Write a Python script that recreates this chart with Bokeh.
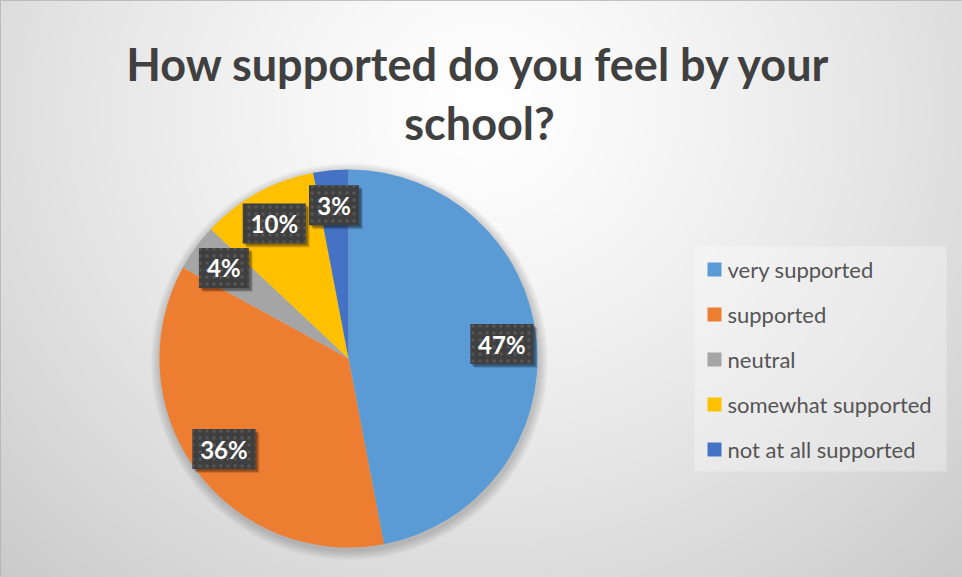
import numpy as np
from bokeh.plotting import figure
from bokeh.models import Range1d
from bokeh.core.properties import value
from bokeh.embed import file_html
from bokeh.resources import INLINE

# ---- data ----
categories = ["very supported", "supported", "neutral", "somewhat supported", "not at all supported"]
percentages = [47, 36, 4, 10, 3]
colors = ["#5B9BD5", "#ED7D31", "#A5A5A5", "#FFC000", "#4472C4"]
title_lines = ["How supported do you feel by your", "school?"]

W, H = 962, 577


def Y(py):
    return H - py


p = figure(width=W, height=H, x_range=Range1d(0, W), y_range=Range1d(0, H),
           output_backend="svg", toolbar_location=None, min_border=0,
           x_axis_location=None, y_axis_location=None)
p.grid.visible = False
p.outline_line_color = "#b0b0b0"
p.background_fill_color = "#e6e6e6"
p.border_fill_color = "#e6e6e6"

# ---- background radial gradient ----
yy, xx = np.mgrid[0:H, 0:W]
py = H - yy
d = np.sqrt(((xx - 481) / 600.0) ** 2 + ((py - 110) / 560.0) ** 2)
d = np.clip(d / 1.25, 0, 1)
g = (255 - 58 * d ** 1.3).astype(np.uint8)
img = np.empty((H, W), dtype=np.uint32)
view = img.view(dtype=np.uint8).reshape((H, W, 4))
view[:, :, 0] = g
view[:, :, 1] = g
view[:, :, 2] = g
view[:, :, 3] = 255
p.image_rgba(image=[img], x=0, y=0, dw=W, dh=H)

# ---- pie ----
cx, cy, r = 348, Y(358), 189
vals = np.array(percentages, dtype=float)
frac = vals / vals.sum()
cum_end = np.cumsum(frac)
cum_start = cum_end - frac
start = np.pi / 2 - 2 * np.pi * cum_start
end = np.pi / 2 - 2 * np.pi * cum_end

# soft shadow around pie
for k in range(1, 9):
    p.circle(x=cx + 1, y=cy - 3, radius=r + k * 1.2, fill_color="black",
             fill_alpha=0.022, line_color=None)

p.wedge(x=cx, y=cy, radius=r, start_angle=start.tolist(), end_angle=end.tolist(),
        direction="clock", fill_color=colors, line_color=None)

# ---- data labels ----
mid = 2 * np.pi * (cum_start + frac / 2)
lr = 0.815 * r
lx = cx + lr * np.sin(mid)
ly = cy + lr * np.cos(mid)
texts = [f"{v}%" for v in percentages]
bw = [13 * len(t) + 24 for t in texts]
bh = 40

for off, a in [(4, 0.12), (3, 0.18), (2, 0.2)]:
    p.rect(x=(lx + off).tolist(), y=(ly - off).tolist(), width=bw, height=bh,
           fill_color="black", fill_alpha=a, line_color=None)
p.rect(x=lx.tolist(), y=ly.tolist(), width=bw, height=bh,
       fill_color="#3f3f3f", line_color=None,
       hatch_pattern="dot", hatch_color="#565656", hatch_scale=7, hatch_weight=1.5)
p.text(x=lx.tolist(), y=ly.tolist(), text=texts, text_color="white",
       text_font=value("Lato"), text_font_style="bold", text_font_size="24px",
       text_align="center", text_baseline="middle")

# ---- title ----
p.text(x=[479, 479], y=[Y(63), Y(122)], text=title_lines, text_color="#404040",
       text_font=value("Lato"), text_font_style="bold", text_font_size="45px",
       text_align="center", text_baseline="alphabetic")

# ---- legend ----
p.quad(left=[694], right=[946], top=[Y(246)], bottom=[Y(471)],
       fill_color="white", fill_alpha=0.3, line_color=None)
n = len(categories)
ly_leg = [Y(269 + 45 * i) for i in range(n)]
p.rect(x=[714] * n, y=ly_leg, width=14, height=14, fill_color=colors, line_color=None)
p.text(x=[727] * n, y=ly_leg, text=categories, text_color="#555555",
       text_font=value("Lato"), text_font_size="22px",
       text_align="left", text_baseline="middle")

open("out.html", "w").write(file_html(p, INLINE))
